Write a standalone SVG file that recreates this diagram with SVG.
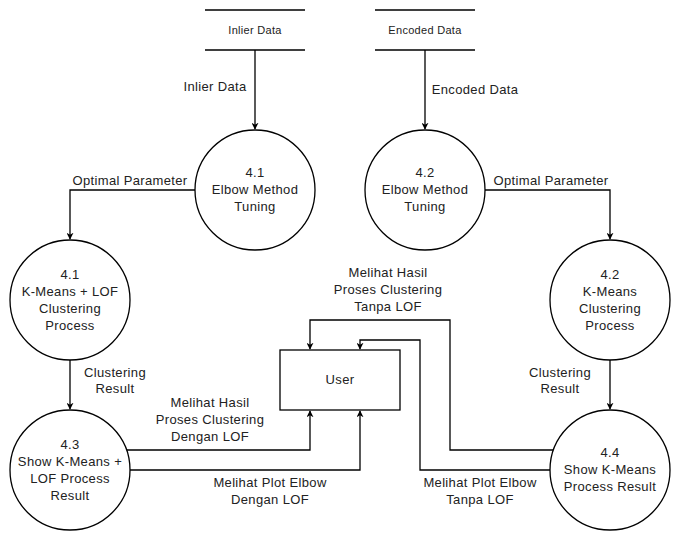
<svg xmlns="http://www.w3.org/2000/svg" width="682" height="541" viewBox="0 0 682 541">
<style>
.s{fill:none;stroke:#000;stroke-width:1.3}
.n{fill:#fff;stroke:#000;stroke-width:1.3}
text{font-family:"Liberation Sans",Arial,sans-serif;font-size:13px;letter-spacing:0.35px;fill:#222;text-anchor:middle}
.ds{font-size:11px;letter-spacing:0.3px}
</style>
<defs>
<marker id="a" viewBox="0 0 10 10" refX="9" refY="5" markerWidth="7" markerHeight="7" markerUnits="userSpaceOnUse" orient="auto">
<path d="M0,0 L10,5 L0,10 L3,5 Z" fill="#000"/>
</marker>
</defs>
<rect width="682" height="541" fill="#fff"/>
<g id="connectors">
<path class="s" d="M255,50 V129" marker-end="url(#a)"/>
<path class="s" d="M425,50 V129" marker-end="url(#a)"/>
<path class="s" d="M195,190 H70 V239" marker-end="url(#a)"/>
<path class="s" d="M485,190 H610 V239" marker-end="url(#a)"/>
<path class="s" d="M70,360 V409" marker-end="url(#a)"/>
<path class="s" d="M610,360 V409" marker-end="url(#a)"/>
<path class="s" d="M126.6,450 H310 V411" marker-end="url(#a)"/>
<path class="s" d="M130,470 H360 V411" marker-end="url(#a)"/>
<path class="s" d="M553.4,450 H450 V320 H310 V349" marker-end="url(#a)"/>
<path class="s" d="M550,470 H420 V340 H360 V349" marker-end="url(#a)"/>
<text x="215" y="91">Inlier Data</text>
<text x="475" y="94">Encoded Data</text>
<text x="130" y="185">Optimal Parameter</text>
<text x="551" y="185">Optimal Parameter</text>
<text x="115" y="377">Clustering</text>
<text x="115" y="393">Result</text>
<text x="560" y="377">Clustering</text>
<text x="560" y="393">Result</text>
<text x="388" y="277">Melihat Hasil</text>
<text x="388" y="294">Proses Clustering</text>
<text x="388" y="311">Tanpa LOF</text>
<text x="210" y="407">Melihat Hasil</text>
<text x="210" y="424">Proses Clustering</text>
<text x="210" y="441">Dengan LOF</text>
<text x="270" y="487">Melihat Plot Elbow</text>
<text x="270" y="504">Dengan LOF</text>
<text x="480" y="487">Melihat Plot Elbow</text>
<text x="480" y="504">Tanpa LOF</text>
</g>
<g id="ds-inlier">
<path class="s" d="M205,10 H305 M205,50 H305"/>
<text class="ds" x="255" y="34">Inlier Data</text>
</g>
<g id="ds-encoded">
<path class="s" d="M375,10 H475 M375,50 H475"/>
<text class="ds" x="425" y="34">Encoded Data</text>
</g>
<g id="p41-elbow">
<circle class="n" cx="255" cy="190" r="60"/>
<text x="255" y="177">4.1</text>
<text x="255" y="194">Elbow Method</text>
<text x="255" y="211">Tuning</text>
</g>
<g id="p42-elbow">
<circle class="n" cx="425" cy="190" r="60"/>
<text x="425" y="177">4.2</text>
<text x="425" y="194">Elbow Method</text>
<text x="425" y="211">Tuning</text>
</g>
<g id="p41-kmeans-lof">
<circle class="n" cx="70" cy="300" r="60"/>
<text x="70" y="279">4.1</text>
<text x="70" y="296">K-Means + LOF</text>
<text x="70" y="313">Clustering</text>
<text x="70" y="330">Process</text>
</g>
<g id="p42-kmeans">
<circle class="n" cx="610" cy="300" r="60"/>
<text x="610" y="279">4.2</text>
<text x="610" y="296">K-Means</text>
<text x="610" y="313">Clustering</text>
<text x="610" y="330">Process</text>
</g>
<g id="p43-show">
<circle class="n" cx="70" cy="470" r="60"/>
<text x="70" y="449">4.3</text>
<text x="70" y="466">Show K-Means +</text>
<text x="70" y="483">LOF Process</text>
<text x="70" y="500">Result</text>
</g>
<g id="p44-show">
<circle class="n" cx="610" cy="470" r="60"/>
<text x="610" y="457">4.4</text>
<text x="610" y="474">Show K-Means</text>
<text x="610" y="491">Process Result</text>
</g>
<g id="user">
<rect class="n" x="280" y="350" width="120" height="60"/>
<text x="340" y="384">User</text>
</g>
</svg>
